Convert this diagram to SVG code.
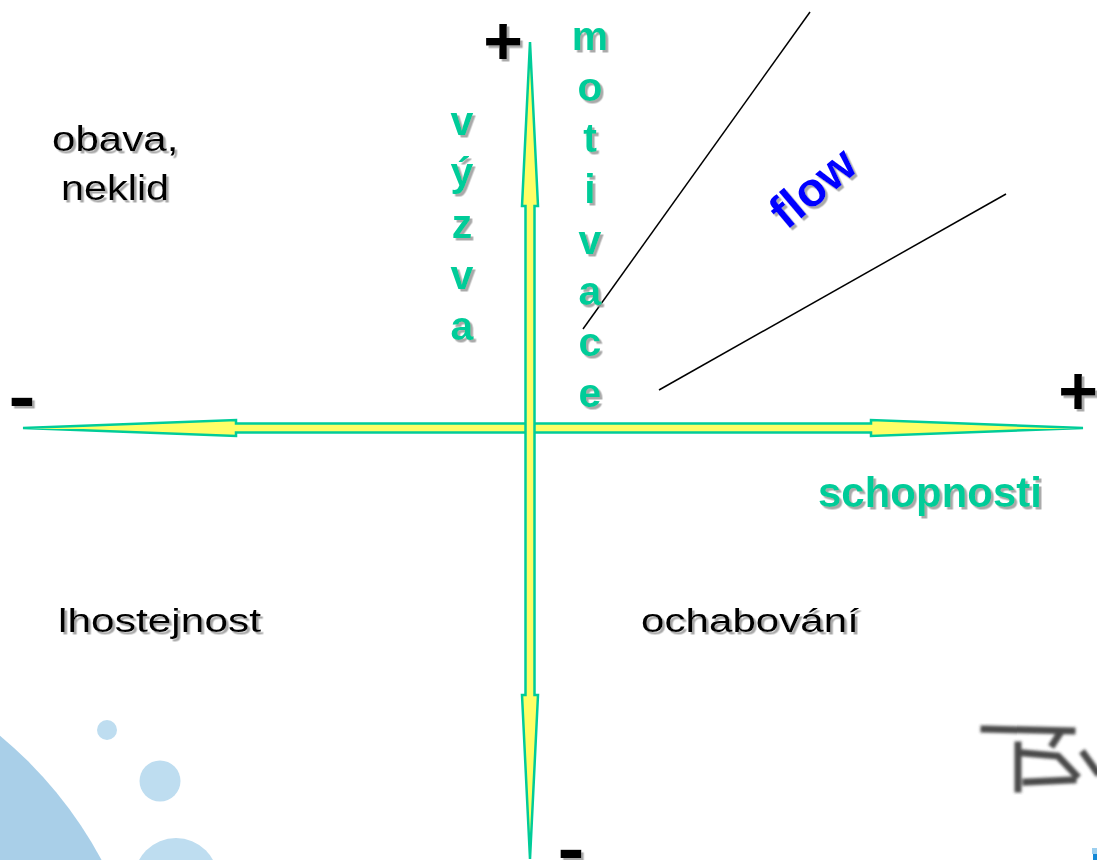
<svg xmlns="http://www.w3.org/2000/svg" width="1097" height="860" viewBox="0 0 1097 860">
  <defs>
    <filter id="shadow" x="-20%" y="-20%" width="140%" height="140%">
      <feDropShadow dx="2.5" dy="2.5" stdDeviation="0.6" flood-color="#9a9a9a" flood-opacity="0.85"/>
    </filter>
    <filter id="soft" x="-10%" y="-10%" width="120%" height="120%">
      <feGaussianBlur stdDeviation="1.4"/>
    </filter>
    <style>
      .axis { fill: #FFFF66; stroke: #00CC99; stroke-width: 2.5; stroke-linejoin: miter; }
      .green { font-family: "Liberation Sans", Arial, sans-serif; font-weight: bold; font-size: 41px; fill: #00CC99; text-anchor: middle; }
      .label { font-family: "Liberation Sans", Arial, sans-serif; font-size: 34px; fill: #000; }
      .sign { font-family: "Liberation Sans", Arial, sans-serif; font-weight: bold; font-size: 68px; fill: #000; text-anchor: middle; }
      .flowline { stroke: #000; stroke-width: 1.5; fill: none; }
      .bubble { fill: #BEDDF0; }
    </style>
  </defs>

  <rect width="1097" height="860" fill="#fff"/>

  <!-- decorative bubbles, lower left -->
  <g id="decor">
    <circle cx="-270" cy="1060" r="422" fill="#A9CFE8"/>
    <circle class="bubble" cx="107" cy="730" r="10"/>
    <circle class="bubble" cx="160" cy="781" r="20.5"/>
    <circle class="bubble" cx="176" cy="880" r="42"/>
  </g>

  <!-- logo fragment at the right edge -->
  <g id="logo" filter="url(#soft)" stroke="#2a2a2a" stroke-width="7" fill="none" stroke-linecap="square" opacity="0.85">
    <path d="M984,729 L1072,731"/>
    <path d="M1060,733 L1053,744"/>
    <path d="M1018,745 L1018,789"/>
    <path d="M1024,753 L1058,756 L1076,775"/>
    <path d="M1026,782 L1073,780"/>
    <path d="M1084,754 L1097,772"/>
  </g>
  <g id="edge-mark">
    <rect x="1092" y="848" width="5" height="6" fill="#9ccfef"/>
    <rect x="1093" y="854" width="4" height="6" fill="#1388d6"/>
  </g>

  <!-- connectors: the two axes and the flow channel -->
  <g id="connectors">
    <polygon id="axis-x" class="axis" points="23,428 236,420 236,423.5 871,423.5 871,420 1083,428 871,436 871,432.5 236,432.5 236,436"/>
    <polygon id="axis-y" class="axis" points="530,42 538,206 534.5,206 534.5,695 538,695 530,859 522,695 525.5,695 525.5,206 522,206"/>
    <line class="flowline" x1="810" y1="12" x2="583" y2="329"/>
    <line class="flowline" x1="1006" y1="194" x2="659" y2="390"/>
  </g>

  <!-- axis end signs -->
  <g id="signs" filter="url(#shadow)">
    <text class="sign" x="503" y="64">+</text>
    <text class="sign" x="1078" y="414">+</text>
    <text class="sign" x="22" y="420" textLength="27" lengthAdjust="spacingAndGlyphs">-</text>
    <text class="sign" x="571" y="872" textLength="27" lengthAdjust="spacingAndGlyphs">-</text>
  </g>

  <!-- vertical axis caption: motivace -->
  <g id="motivace" filter="url(#shadow)">
    <text class="green" x="590" y="50">m</text>
    <text class="green" x="590" y="101">o</text>
    <text class="green" x="590" y="152">t</text>
    <text class="green" x="590" y="203">i</text>
    <text class="green" x="590" y="254">v</text>
    <text class="green" x="590" y="305">a</text>
    <text class="green" x="590" y="356">c</text>
    <text class="green" x="590" y="407">e</text>
  </g>

  <!-- vertical axis caption: výzva -->
  <g id="vyzva" filter="url(#shadow)">
    <text class="green" x="462" y="135">v</text>
    <text class="green" x="462" y="186">ý</text>
    <text class="green" x="462" y="238">z</text>
    <text class="green" x="462" y="289">v</text>
    <text class="green" x="462" y="340">a</text>
  </g>

  <!-- horizontal axis caption -->
  <g id="schopnosti" filter="url(#shadow)">
    <text class="green" x="930" y="507" style="font-size:42px">schopnosti</text>
  </g>

  <!-- flow channel label -->
  <g id="flow" filter="url(#shadow)">
    <text transform="translate(813,188) rotate(-40)" x="0" y="16" font-family="Liberation Sans, Arial, sans-serif" font-weight="bold" font-size="48" fill="#0000FF" text-anchor="middle">flow</text>
  </g>

  <!-- quadrant labels (set in a horizontally widened face) -->
  <g id="quadrant-obava" filter="url(#shadow)">
    <text class="label" transform="translate(52,151) scale(1.17,1)" style="font-size:36px">obava,</text>
    <text class="label" transform="translate(61,200) scale(1.15,1)" style="font-size:36px">neklid</text>
  </g>
  <g id="quadrant-lhostejnost" filter="url(#shadow)">
    <text class="label" transform="translate(58,632) scale(1.25,1)">lhostejnost</text>
  </g>
  <g id="quadrant-ochabovani" filter="url(#shadow)">
    <text class="label" transform="translate(641,632) scale(1.24,1)">ochabování</text>
  </g>
</svg>
